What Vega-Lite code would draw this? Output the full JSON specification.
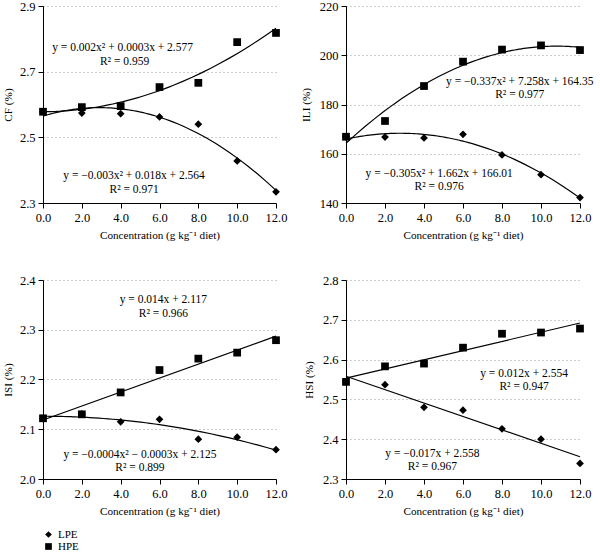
{
  "$schema": "https://vega.github.io/schema/vega-lite/v6.json",
  "padding": {"left": 2, "top": 0, "right": 0, "bottom": 0},
  "background": "white",
  "config": {
    "font": "Liberation Serif",
    "view": {"stroke": null},
    "axis": {"labelFont": "Liberation Serif", "titleFont": "Liberation Serif", "labelFontSize": 12.5, "titleFontSize": 11.2, "titleFontWeight": "normal", "labelColor": "black", "titleColor": "black", "domainColor": "black", "tickColor": "black", "tickSize": 5, "labelPadding": 3, "gridColor": "#9a9a9a", "gridDash": [1, 3], "gridWidth": 1, "labelOverlap": false, "labelFlush": false, "tickCount": 12},
    "axisX": {"titlePadding": 6, "grid": false},
    "axisY": {"titlePadding": 6, "grid": true},
    "legend": {"labelFont": "Liberation Serif", "labelFontSize": 11, "labelColor": "black"},
    "text": {"font": "Liberation Serif", "fontSize": 11.5, "color": "black"}
  },
  "datasets": {
    "cf": [
      {"series": "HPE", "x": 0, "y": 2.578}, {"series": "HPE", "x": 2, "y": 2.592}, {"series": "HPE", "x": 4, "y": 2.595}, {"series": "HPE", "x": 6, "y": 2.653}, {"series": "HPE", "x": 8, "y": 2.666}, {"series": "HPE", "x": 10, "y": 2.79}, {"series": "HPE", "x": 12, "y": 2.818},
      {"series": "LPE", "x": 0, "y": 2.578}, {"series": "LPE", "x": 2, "y": 2.574}, {"series": "LPE", "x": 4, "y": 2.572}, {"series": "LPE", "x": 6, "y": 2.562}, {"series": "LPE", "x": 8, "y": 2.54}, {"series": "LPE", "x": 10, "y": 2.428}, {"series": "LPE", "x": 12, "y": 2.334}
    ],
    "ili": [
      {"series": "HPE", "x": 0, "y": 166.9}, {"series": "HPE", "x": 2, "y": 173.3}, {"series": "HPE", "x": 4, "y": 187.5}, {"series": "HPE", "x": 6, "y": 197.4}, {"series": "HPE", "x": 8, "y": 202.3}, {"series": "HPE", "x": 10, "y": 204.0}, {"series": "HPE", "x": 12, "y": 202.1},
      {"series": "LPE", "x": 0, "y": 166.9}, {"series": "LPE", "x": 2, "y": 166.8}, {"series": "LPE", "x": 4, "y": 166.4}, {"series": "LPE", "x": 6, "y": 167.9}, {"series": "LPE", "x": 8, "y": 159.5}, {"series": "LPE", "x": 10, "y": 151.5}, {"series": "LPE", "x": 12, "y": 142.2}
    ],
    "isi": [
      {"series": "HPE", "x": 0, "y": 2.122}, {"series": "HPE", "x": 2, "y": 2.13}, {"series": "HPE", "x": 4, "y": 2.174}, {"series": "HPE", "x": 6, "y": 2.219}, {"series": "HPE", "x": 8, "y": 2.242}, {"series": "HPE", "x": 10, "y": 2.254}, {"series": "HPE", "x": 12, "y": 2.279},
      {"series": "LPE", "x": 0, "y": 2.122}, {"series": "LPE", "x": 2, "y": 2.131}, {"series": "LPE", "x": 4, "y": 2.115}, {"series": "LPE", "x": 6, "y": 2.12}, {"series": "LPE", "x": 8, "y": 2.08}, {"series": "LPE", "x": 10, "y": 2.084}, {"series": "LPE", "x": 12, "y": 2.059}
    ],
    "hsi": [
      {"series": "HPE", "x": 0, "y": 2.544}, {"series": "HPE", "x": 2, "y": 2.583}, {"series": "HPE", "x": 4, "y": 2.59}, {"series": "HPE", "x": 6, "y": 2.63}, {"series": "HPE", "x": 8, "y": 2.665}, {"series": "HPE", "x": 10, "y": 2.668}, {"series": "HPE", "x": 12, "y": 2.678},
      {"series": "LPE", "x": 0, "y": 2.544}, {"series": "LPE", "x": 2, "y": 2.537}, {"series": "LPE", "x": 4, "y": 2.48}, {"series": "LPE", "x": 6, "y": 2.473}, {"series": "LPE", "x": 8, "y": 2.426}, {"series": "LPE", "x": 10, "y": 2.4}, {"series": "LPE", "x": 12, "y": 2.339}
    ],
    "cf_txt": [
      {"x": 4.1, "y": 2.772, "label": "y = 0.002x² + 0.0003x + 2.577"},
      {"x": 4.2, "y": 2.729, "label": "R² = 0.959"},
      {"x": 4.69, "y": 2.382, "label": "y = −0.003x² + 0.018x + 2.564"},
      {"x": 4.69, "y": 2.340, "label": "R² = 0.971"}
    ],
    "ili_txt": [
      {"x": 8.91, "y": 189.1, "label": "y = −0.337x² + 7.258x + 164.35"},
      {"x": 8.91, "y": 183.7, "label": "R² = 0.977"},
      {"x": 4.78, "y": 151.9, "label": "y = −0.305x² + 1.662x + 166.01"},
      {"x": 4.78, "y": 146.6, "label": "R² = 0.976"}
    ],
    "isi_txt": [
      {"x": 6.2, "y": 2.360, "label": "y = 0.014x + 2.117"},
      {"x": 6.2, "y": 2.332, "label": "R² = 0.966"},
      {"x": 4.99, "y": 2.049, "label": "y = −0.0004x² − 0.0003x + 2.125"},
      {"x": 4.99, "y": 2.022, "label": "R² = 0.899"}
    ],
    "hsi_txt": [
      {"x": 9.13, "y": 2.565, "label": "y = 0.012x + 2.554"},
      {"x": 9.13, "y": 2.530, "label": "R² = 0.947"},
      {"x": 4.43, "y": 2.363, "label": "y = −0.017x + 2.558"},
      {"x": 4.43, "y": 2.329, "label": "R² = 0.967"}
    ]
  },
  "resolve": {"scale": {"shape": "shared"}, "legend": {"shape": "shared"}},
  "columns": 2,
  "spacing": {"column": 70, "row": 77},
  "bounds": "flush",
  "concat": [
    {
      "width": 233, "height": 197,
      "layer": [
        {"data": {"name": "cf"}, "mark": {"type": "point", "filled": true, "opacity": 1, "color": "black", "size": 60},
         "encoding": {
           "x": {"field": "x", "type": "quantitative", "scale": {"domain": [0, 12], "nice": false}, "axis": {"values": [0, 2, 4, 6, 8, 10, 12], "format": ".1f", "title": "Concentration (g kg⁻¹ diet)"}},
           "y": {"field": "y", "type": "quantitative", "scale": {"domain": [2.3, 2.9], "nice": false, "zero": false}, "axis": {"values": [2.3, 2.5, 2.7, 2.9], "format": ".1f", "title": "CF (%)"}},
           "shape": {"field": "series", "type": "nominal", "scale": {"domain": ["LPE", "HPE"], "range": ["diamond", "square"]}, "legend": {"orient": "bottom", "direction": "vertical", "title": null, "symbolFillColor": "black", "symbolStrokeColor": "black", "symbolSize": 45, "rowPadding": -3, "offset": 12, "padding": 0, "labelOffset": 4, "labelBaseline": "middle"}}
         }},
        {"data": {"name": "cf"}, "transform": [{"regression": "y", "on": "x", "groupby": ["series"], "method": "poly", "order": 2}],
         "mark": {"type": "line", "color": "black", "strokeWidth": 1.2},
         "encoding": {"x": {"field": "x", "type": "quantitative"}, "y": {"field": "y", "type": "quantitative"}, "detail": {"field": "series"}}},
        {"data": {"name": "cf_txt"}, "mark": {"type": "text", "align": "center", "baseline": "middle", "fontSize": 11.5},
         "encoding": {"x": {"field": "x", "type": "quantitative"}, "y": {"field": "y", "type": "quantitative"}, "text": {"field": "label"}}}
      ]
    },
    {
      "width": 234, "height": 197,
      "layer": [
        {"data": {"name": "ili"}, "mark": {"type": "point", "filled": true, "opacity": 1, "color": "black", "size": 60},
         "encoding": {
           "x": {"field": "x", "type": "quantitative", "scale": {"domain": [0, 12], "nice": false}, "axis": {"values": [0, 2, 4, 6, 8, 10, 12], "format": ".1f", "title": "Concentration (g kg⁻¹ diet)"}},
           "y": {"field": "y", "type": "quantitative", "scale": {"domain": [140, 220], "nice": false, "zero": false}, "axis": {"values": [140, 160, 180, 200, 220], "format": "d", "title": "ILI (%)", "titlePadding": 8}},
           "shape": {"field": "series", "type": "nominal", "legend": null}
         }},
        {"data": {"name": "ili"}, "transform": [{"regression": "y", "on": "x", "groupby": ["series"], "method": "poly", "order": 2}],
         "mark": {"type": "line", "color": "black", "strokeWidth": 1.2},
         "encoding": {"x": {"field": "x", "type": "quantitative"}, "y": {"field": "y", "type": "quantitative"}, "detail": {"field": "series"}}},
        {"data": {"name": "ili_txt"}, "mark": {"type": "text", "align": "center", "baseline": "middle", "fontSize": 11.5},
         "encoding": {"x": {"field": "x", "type": "quantitative"}, "y": {"field": "y", "type": "quantitative"}, "text": {"field": "label"}}}
      ]
    },
    {
      "width": 233, "height": 199,
      "layer": [
        {"data": {"name": "isi"}, "mark": {"type": "point", "filled": true, "opacity": 1, "color": "black", "size": 60},
         "encoding": {
           "x": {"field": "x", "type": "quantitative", "scale": {"domain": [0, 12], "nice": false}, "axis": {"values": [0, 2, 4, 6, 8, 10, 12], "format": ".1f", "title": "Concentration (g kg⁻¹ diet)"}},
           "y": {"field": "y", "type": "quantitative", "scale": {"domain": [2.0, 2.4], "nice": false, "zero": false}, "axis": {"values": [2.0, 2.1, 2.2, 2.3, 2.4], "format": ".1f", "title": "ISI (%)"}},
           "shape": {"field": "series", "type": "nominal", "legend": null}
         }},
        {"data": {"name": "isi"}, "transform": [{"filter": "datum.series === 'HPE'"}, {"regression": "y", "on": "x", "method": "linear"}],
         "mark": {"type": "line", "color": "black", "strokeWidth": 1.2},
         "encoding": {"x": {"field": "x", "type": "quantitative"}, "y": {"field": "y", "type": "quantitative"}}},
        {"data": {"name": "isi"}, "transform": [{"filter": "datum.series === 'LPE'"}, {"regression": "y", "on": "x", "method": "poly", "order": 2}],
         "mark": {"type": "line", "color": "black", "strokeWidth": 1.2},
         "encoding": {"x": {"field": "x", "type": "quantitative"}, "y": {"field": "y", "type": "quantitative"}}},
        {"data": {"name": "isi_txt"}, "mark": {"type": "text", "align": "center", "baseline": "middle", "fontSize": 11.5},
         "encoding": {"x": {"field": "x", "type": "quantitative"}, "y": {"field": "y", "type": "quantitative"}, "text": {"field": "label"}}}
      ]
    },
    {
      "width": 234, "height": 199,
      "layer": [
        {"data": {"name": "hsi"}, "mark": {"type": "point", "filled": true, "opacity": 1, "color": "black", "size": 60},
         "encoding": {
           "x": {"field": "x", "type": "quantitative", "scale": {"domain": [0, 12], "nice": false}, "axis": {"values": [0, 2, 4, 6, 8, 10, 12], "format": ".1f", "title": "Concentration (g kg⁻¹ diet)"}},
           "y": {"field": "y", "type": "quantitative", "scale": {"domain": [2.3, 2.8], "nice": false, "zero": false}, "axis": {"values": [2.3, 2.4, 2.5, 2.6, 2.7, 2.8], "format": ".1f", "title": "HSI (%)", "titlePadding": 8}},
           "shape": {"field": "series", "type": "nominal", "legend": null}
         }},
        {"data": {"name": "hsi"}, "transform": [{"regression": "y", "on": "x", "groupby": ["series"], "method": "linear"}],
         "mark": {"type": "line", "color": "black", "strokeWidth": 1.2},
         "encoding": {"x": {"field": "x", "type": "quantitative"}, "y": {"field": "y", "type": "quantitative"}, "detail": {"field": "series"}}},
        {"data": {"name": "hsi_txt"}, "mark": {"type": "text", "align": "center", "baseline": "middle", "fontSize": 11.5},
         "encoding": {"x": {"field": "x", "type": "quantitative"}, "y": {"field": "y", "type": "quantitative"}, "text": {"field": "label"}}}
      ]
    }
  ]
}
